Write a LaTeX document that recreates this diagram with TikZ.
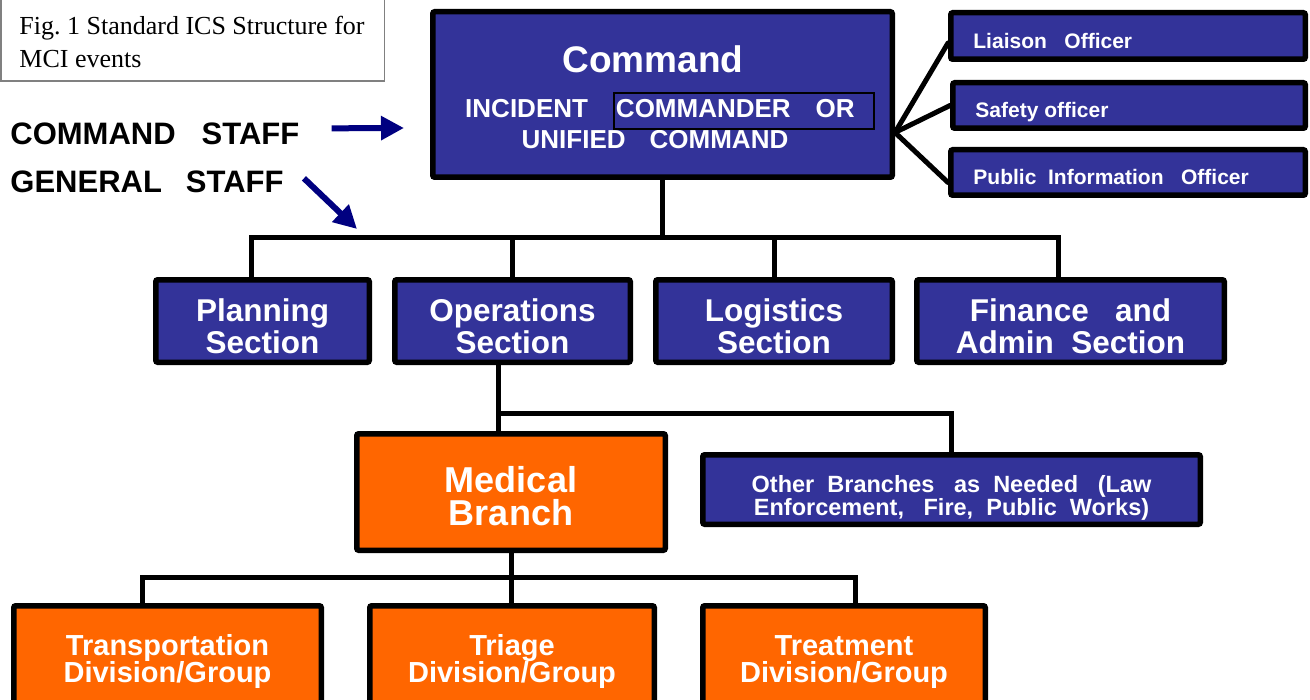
\documentclass[tikz,border=0pt]{standalone}
\usepackage{fontspec}
\setmainfont{Liberation Sans}
\newfontfamily\capfont{Liberation Serif}
\usepackage{xcolor}
\usetikzlibrary{arrows.meta, calc}
\definecolor{icsblue}{HTML}{333399}
\definecolor{icsorange}{HTML}{FF6600}
\definecolor{staffnavy}{HTML}{000080}
\lineskiplimit=-20pt

\begin{document}
\begin{tikzpicture}[x=0.5pt, y=-0.5pt, >=Latex,
  box/.style={draw=black, line width=2.75pt, rounded corners=1pt, inner sep=0pt,
    text=white, align=center},
  boxsize/.style 2 args={minimum width={#1*0.5pt-2.75pt}, minimum height={#2*0.5pt-2.75pt}},
  bluebox/.style={box, fill=icsblue},
  orangebox/.style={box, fill=icsorange},
  whitetext/.style={text=white, inner sep=0pt},
  link/.style={line width=2.5pt},
  staffarrow/.style={staffnavy, line width=3pt, -{Triangle[length=11.5pt, width=11.5pt]}},
  secfont/.style={font=\fontsize{15.75}{15.75}\selectfont\bfseries},
  divfont/.style={font=\fontsize{14.5}{13.5}\selectfont\bfseries},
  offfont/.style={font=\fontsize{10.5}{10.5}\selectfont\bfseries},
  stafffont/.style={font=\fontsize{15.5}{15.5}\selectfont\bfseries}]

  \useasboundingbox (0,0) rectangle (1310,700);
  \clip (0,0) rectangle (1310,700);

  % Caption
  \node[draw=gray, line width=0.75pt, inner sep=0pt, minimum width=191.75pt,
    minimum height=45.25pt] (figbox) at (192.5,36) {};
  \node[anchor=north west, align=left, inner sep=0pt,
    font=\capfont\fontsize{13}{16.5}\selectfont] (figtext) at (19,16)
    {Fig.\ 1 Standard ICS Structure for\\MCI events};

  % Staff labels
  \node[stafffont, anchor=base west, inner sep=0pt] (cmdstaff) at (10,145)
    {COMMAND\hspace{13pt}STAFF};
  \node[stafffont, anchor=base west, inner sep=0pt] (genstaff) at (10,193)
    {GENERAL\hspace{12pt}STAFF};

  % Command
  \node[bluebox, boxsize={465}{171}] (cmd) at (662.5,94.5) {};
  \node[whitetext, anchor=base, font=\fontsize{18.5}{18.5}\selectfont\bfseries]
    (cmdtitle) at (653,73) {Command};
  \node[whitetext, anchor=base, font=\fontsize{13}{13}\selectfont\bfseries]
    (cmdline) at (660,118) {INCIDENT\hspace{14pt}COMMANDER\hspace{12.5pt}OR};
  \node[whitetext, anchor=base, font=\fontsize{13}{13}\selectfont\bfseries]
    (cmdunified) at (655,149) {UNIFIED\hspace{12pt}COMMAND};
  \draw[line width=0.75pt] (614,93) rectangle (874,129);

  % Command staff
  \node[bluebox, boxsize={360}{52}] (liaison) at (1128,36) {};
  \node[bluebox, boxsize={358}{51}] (safety) at (1129,105.5) {};
  \node[bluebox, boxsize={360}{51}] (pio) at (1128,172.5) {};
  \node[whitetext, offfont, anchor=base west] (liaisontext) at (973,49)
    {Liaison~~~Officer};
  \node[whitetext, offfont, anchor=base west] (safetytext) at (975,118)
    {Safety officer};
  \node[whitetext, offfont, anchor=base west] (piotext) at (973,185)
    {Public~~Information~~~Officer};

  \coordinate (fan) at ($(cmd.east)+(0,38)$);
  \draw[link, line cap=round] (fan) -- ([yshift=-3.5pt]liaison.west);
  \draw[link, line cap=round] (fan) -- (safety.west);
  \draw[link, line cap=round] (fan) -- ([yshift=-5pt]pio.west);

  % General staff
  \node[bluebox, boxsize={219}{88}, secfont] (planning) at (262.5,321)
    {\rule{0pt}{16.5pt}Planning\\Section};
  \node[bluebox, boxsize={241}{88}, secfont] (operations) at (512.5,321)
    {\rule{0pt}{16.5pt}Operations\\Section};
  \node[bluebox, boxsize={242}{88}, secfont] (logistics) at (774,321)
    {\rule{0pt}{16.5pt}Logistics\\Section};
  \node[bluebox, boxsize={313}{88}, secfont] (finance) at (1070.5,321)
    {\rule{0pt}{16.5pt}Finance~~~and\\Admin~~Section};

  \coordinate (busL) at (251,237);
  \coordinate (busR) at (1058,237);
  \draw[link] (cmd.south) -- (cmd.south |- busL);
  \draw[link] (planning.north -| busL) -- (busL) -- (busR) -- (finance.north -| busR);
  \draw[link] (operations.north) -- (operations.north |- busL);
  \draw[link] (logistics.north) -- (logistics.north |- busL);

  % Branches
  \node[orangebox, boxsize={314}{122}, font=\fontsize{18}{16.25}\selectfont\bfseries]
    (medical) at (511,492) {\rule{0pt}{17pt}Medical\\Branch};
  \node[bluebox, boxsize={503}{75}, font=\fontsize{11.75}{11.5}\selectfont\bfseries]
    (otherbr) at (951.5,489.5)
    {\rule{0pt}{16.5pt}Other~~Branches~~~as~~Needed~~~(Law\\Enforcement,~~~Fire,~~Public~~Works)};

  \coordinate (busM) at (498,413);
  \draw[link] (operations.south -| busM) -- (medical.north -| busM);
  \draw[link] (busM) -| (otherbr.north);

  % Divisions
  \node[orangebox, boxsize={313}{116}, divfont] (transport) at (167.5,661)
    {\rule{0pt}{11pt}Transportation\\Division/Group};
  \node[orangebox, boxsize={290}{116}, divfont] (triage) at (512,661)
    {\rule{0pt}{11pt}Triage\\Division/Group};
  \node[orangebox, boxsize={288}{116}, divfont] (treatment) at (844,661)
    {\rule{0pt}{11pt}Treatment\\Division/Group};

  \coordinate (busDL) at (142,577);
  \coordinate (busDR) at (855,577);
  \draw[link] (medical.south) -- (medical.south |- triage.north);
  \draw[link] (transport.north -| busDL) -- (busDL) -- (busDR) -- (treatment.north -| busDR);

  % Staff arrows
  \coordinate (cmdtip) at (404,128);
  \coordinate (gentip) at (357,229);
  \draw[staffarrow] ([xshift=16pt, yshift=3pt]cmdstaff.east) -- (cmdtip);
  \draw[staffarrow] ([xshift=10pt, yshift=2pt]genstaff.east) -- (gentip);
\end{tikzpicture}
\end{document}
